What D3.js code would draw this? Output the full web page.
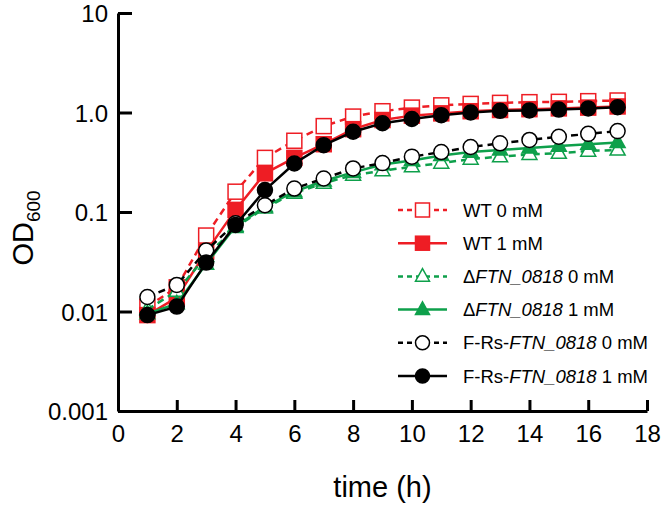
<!DOCTYPE html>
<html>
<head>
<meta charset="utf-8">
<script src="https://cdn.jsdelivr.net/npm/d3@7"></script>
<style>
    body { margin: 0; background: #fff; }
    svg { font-family: 'Liberation Sans', Arial, sans-serif; }
</style>
</head>
<body>
<svg id="chart" width="666" height="510"></svg>
<script>
// time points (h)
var time = [1, 2, 3, 4, 5, 6, 7, 8, 9, 10, 11, 12, 13, 14, 15, 16, 17];

// OD600 values
var wt0 = [0.0112, 0.0175, 0.058, 0.16, 0.35, 0.52, 0.73, 0.91, 1.03, 1.12, 1.18, 1.22, 1.25, 1.27, 1.28, 1.30, 1.32];
var wt1 = [0.0092, 0.0138, 0.040, 0.105, 0.245, 0.35, 0.48, 0.68, 0.84, 0.93, 0.98, 1.03, 1.06, 1.08, 1.10, 1.12, 1.15];
var ftn0 = [0.0105, 0.016, 0.036, 0.070, 0.11, 0.155, 0.195, 0.235, 0.26, 0.285, 0.31, 0.34, 0.36, 0.38, 0.39, 0.41, 0.42];
var ftn1 = [0.0095, 0.012, 0.030, 0.072, 0.113, 0.16, 0.205, 0.25, 0.30, 0.33, 0.37, 0.40, 0.42, 0.44, 0.46, 0.48, 0.50];
var frs0 = [0.014, 0.0185, 0.041, 0.077, 0.117, 0.172, 0.217, 0.274, 0.31, 0.36, 0.40, 0.45, 0.49, 0.53, 0.57, 0.61, 0.65];
var frs1 = [0.0092, 0.0112, 0.031, 0.074, 0.166, 0.307, 0.47, 0.64, 0.78, 0.86, 0.94, 1.0, 1.04, 1.05, 1.07, 1.10, 1.13];

// axis ticks
var xTicks = [0, 2, 4, 6, 8, 10, 12, 14, 16, 18];
var yTicks = [0.001, 0.01, 0.1, 1, 10];
var yTickLabels = ['0.001', '0.01', '0.1', '1.0', '10'];

var RED = '#ee1d24';
var GREEN = '#0ea04b';

var series = [
    { values: wt0, color: RED, dash: '7,5', shape: 'square', filled: false, label: [['WT 0 mM', false]] },
    { values: wt1, color: RED, dash: null, shape: 'square', filled: true, label: [['WT 1 mM', false]] },
    { values: ftn0, color: GREEN, dash: '7,5', shape: 'triangle', filled: false, label: [['\u0394', false], ['FTN_0818', true], [' 0 mM', false]] },
    { values: ftn1, color: GREEN, dash: null, shape: 'triangle', filled: true, label: [['\u0394', false], ['FTN_0818', true], [' 1 mM', false]] },
    { values: frs0, color: '#000', dash: '7,5', shape: 'circle', filled: false, label: [['F-Rs-', false], ['FTN_0818', true], [' 0 mM', false]] },
    { values: frs1, color: '#000', dash: null, shape: 'circle', filled: true, label: [['F-Rs-', false], ['FTN_0818', true], [' 1 mM', false]] }
];

var svg = d3.select('#chart');

var x = d3.scaleLinear().domain([0, 18]).range([118, 647]);
var y = d3.scaleLog().domain([0.001, 10]).range([411, 13]);

// symbols
function drawMarker(g, s, cx, cy, size) {
    var fill = s.filled ? s.color : '#fff';
    if (s.shape === 'square') {
        g.append('rect')
            .attr('x', cx - size / 2)
            .attr('y', cy - size / 2)
            .attr('width', size)
            .attr('height', size)
            .attr('fill', fill)
            .attr('stroke', s.color)
            .attr('stroke-width', 1.5);
    } else if (s.shape === 'circle') {
        g.append('circle')
            .attr('cx', cx)
            .attr('cy', cy)
            .attr('r', size / 2)
            .attr('fill', fill)
            .attr('stroke', s.color)
            .attr('stroke-width', 1.5);
    } else {
        var h = size * 0.9;
        g.append('path')
            .attr('d', `M${cx},${cy - h * 0.62} L${cx + size / 2},${cy + h * 0.38} L${cx - size / 2},${cy + h * 0.38} Z`)
            .attr('fill', fill)
            .attr('stroke', s.color)
            .attr('stroke-width', 1.5);
    }
}

var line = d3.line()
    .x(function (d, i) { return x(time[i]); })
    .y(function (d) { return y(d); });

var plot = svg.append('g');

series.forEach(function (s) {
    var g = plot.append('g');
    g.append('path')
        .attr('d', line(s.values))
        .attr('fill', 'none')
        .attr('stroke', s.color)
        .attr('stroke-width', 2.5)
        .attr('stroke-dasharray', s.dash);
    s.values.forEach(function (v, i) {
        drawMarker(g, s, x(time[i]), y(v), 15);
    });
});

// axes
var xAxis = d3.axisBottom(x)
    .tickValues(xTicks)
    .tickSizeInner(-11)
    .tickSizeOuter(0)
    .tickPadding(14)
    .tickFormat(d3.format('d'));

var yAxis = d3.axisLeft(y)
    .tickValues(yTicks)
    .tickSizeInner(-14)
    .tickSizeOuter(0)
    .tickPadding(10)
    .tickFormat(function (d) { return yTickLabels[yTicks.indexOf(d)]; });

var gx = svg.append('g')
    .attr('transform', `translate(0,${y(0.001)})`)
    .call(xAxis);

var gy = svg.append('g')
    .attr('transform', `translate(${x(0)},0)`)
    .call(yAxis);

[gx, gy].forEach(function (g) {
    g.select('.domain').attr('stroke', '#000').attr('stroke-width', 3);
    g.selectAll('.tick line').attr('stroke', '#000').attr('stroke-width', 3);
    g.selectAll('.tick text')
        .attr('fill', '#000')
        .style('font-size', '24px')
        .style('font-family', "'Liberation Sans', Arial, sans-serif");
});
gy.selectAll('.tick text').attr('dy', '0.36em');
gx.selectAll('.tick text').attr('dy', '0.72em');

// axis titles
svg.append('text')
    .attr('x', (x(0) + x(18)) / 2)
    .attr('y', 497)
    .attr('text-anchor', 'middle')
    .style('font-size', '29px')
    .text('time (h)');

var yt = svg.append('text')
    .attr('transform', 'translate(33,228) rotate(-90)')
    .attr('text-anchor', 'middle')
    .style('font-size', '29px');
yt.append('tspan').text('OD');
yt.append('tspan').attr('dy', 7).style('font-size', '19px').text('600');

// legend
var legend = svg.append('g');
series.forEach(function (s, i) {
    var ly = 210 + i * 33.2;
    var row = legend.append('g');
    row.append('line')
        .attr('x1', 398)
        .attr('x2', 447)
        .attr('y1', ly)
        .attr('y2', ly)
        .attr('stroke', s.color)
        .attr('stroke-width', 2.5)
        .attr('stroke-dasharray', s.dash ? '5,4' : null);
    drawMarker(row, s, 422.5, ly, 14);
    var t = row.append('text')
        .attr('x', 463)
        .attr('y', ly + 6.5)
        .style('font-size', '18.5px');
    s.label.forEach(function (part) {
        t.append('tspan')
            .style('font-style', part[1] ? 'italic' : 'normal')
            .text(part[0]);
    });
});
</script>
</body>
</html>
